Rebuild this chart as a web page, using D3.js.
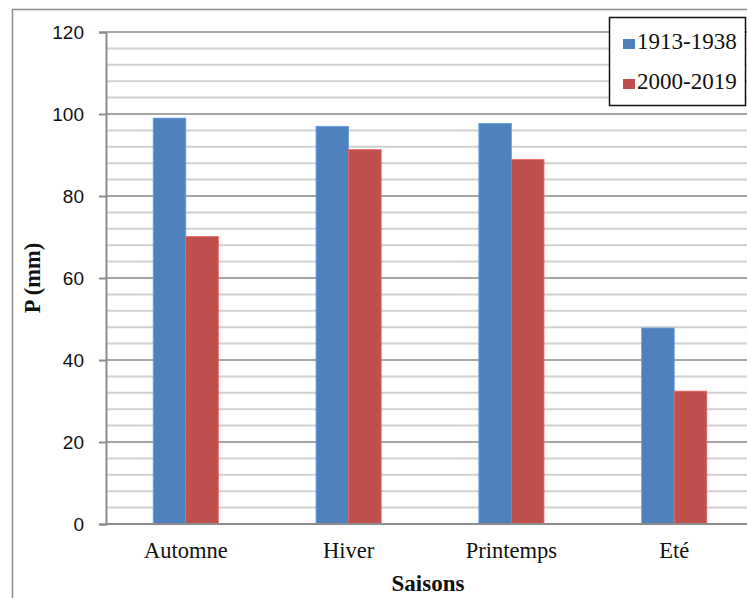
<!DOCTYPE html>
<html>
<head>
<meta charset="utf-8">
<script src="https://cdn.jsdelivr.net/npm/d3@7"></script>
<style>
  html, body { margin: 0; padding: 0; background: #fff; }
  svg { display: block; }
</style>
</head>
<body>
<div id="chart"></div>
<script>
const seasons = ['Automne', 'Hiver', 'Printemps', 'Eté'];
const seriesNames = ['1913-1938', '2000-2019'];
const p1913 = [99, 97, 97.7, 47.8];
const p2000 = [70.1, 91.3, 88.9, 32.4];
const yTicks = [0, 20, 40, 60, 80, 100, 120];
const colors = ['#4f81bd', '#c0504d'];

const width = 747;
const height = 598;
const plot = { left: 106, top: 32, right: 754, bottom: 524 };

const svg = d3.select('#chart')
  .append('svg')
    .attr('width', width)
    .attr('height', height);

// outer chart frame (cut at the right and bottom)
svg.append('path')
  .attr('d', `M12.5,${height + 2}V9.5H${width + 2}`)
  .attr('fill', 'none')
  .attr('stroke', '#8c8c8c')
  .attr('stroke-width', 1.5);

const y = d3.scaleLinear()
  .domain([0, 120])
  .range([plot.bottom, plot.top]);

const x0 = d3.scaleBand()
  .domain(seasons)
  .range([plot.left, plot.right])
  .paddingInner(0.6)
  .paddingOuter(0.29);

const x1 = d3.scaleBand()
  .domain(seriesNames)
  .range([0, x0.bandwidth()]);

// minor gridlines every 4 mm
svg.append('g')
  .selectAll('line')
  .data(d3.range(0, 121, 4).filter(v => v % 20 !== 0))
  .join('line')
    .attr('x1', plot.left)
    .attr('x2', width)
    .attr('y1', d => y(d))
    .attr('y2', d => y(d))
    .attr('stroke', '#d0d0d0')
    .attr('stroke-width', 2);

// major gridlines
svg.append('g')
  .selectAll('line')
  .data(yTicks.filter(v => v > 0))
  .join('line')
    .attr('x1', plot.left)
    .attr('x2', width)
    .attr('y1', d => y(d))
    .attr('y2', d => y(d))
    .attr('stroke', '#a6a6a6')
    .attr('stroke-width', 2);

// bars
const rows = seasons.map((s, i) => ({ season: s, values: [p1913[i], p2000[i]] }));

svg.append('g')
  .selectAll('g')
  .data(rows)
  .join('g')
    .attr('transform', d => `translate(${x0(d.season)},0)`)
  .selectAll('rect')
  .data(d => d.values.map((v, k) => ({ name: seriesNames[k], value: v, k })))
  .join('rect')
    .attr('x', d => x1(d.name))
    .attr('y', d => y(d.value))
    .attr('width', x1.bandwidth())
    .attr('height', d => y(0) - y(d.value))
    .attr('fill', d => colors[d.k])
    .attr('stroke', d => d3.color(colors[d.k]).brighter(0.6))
    .attr('stroke-width', 0.8);

// y axis
const yAxis = svg.append('g')
  .attr('transform', `translate(${plot.left},0)`)
  .call(d3.axisLeft(y).tickValues(yTicks).tickSize(7).tickPadding(15));

yAxis.select('.domain')
  .attr('stroke', '#8c8c8c')
  .attr('stroke-width', 2);
yAxis.selectAll('.tick line')
  .attr('stroke', '#8c8c8c')
  .attr('stroke-width', 2);
yAxis.selectAll('.tick text')
  .attr('fill', '#111')
  .style('font-family', '"Liberation Sans", Arial, sans-serif')
  .style('font-size', '19px');

// x axis baseline
svg.append('line')
  .attr('x1', plot.left)
  .attr('x2', width)
  .attr('y1', y(0))
  .attr('y2', y(0))
  .attr('stroke', '#8c8c8c')
  .attr('stroke-width', 2);

// category labels
svg.append('g')
  .selectAll('text')
  .data(seasons)
  .join('text')
    .attr('x', d => x0(d) + x0.bandwidth() / 2)
    .attr('y', 558)
    .attr('text-anchor', 'middle')
    .attr('fill', '#111')
    .style('font-family', '"Liberation Serif", "Times New Roman", serif')
    .style('font-size', '22.5px')
    .text(d => d);

// axis titles
svg.append('text')
  .attr('transform', 'translate(40,278) rotate(-90)')
  .attr('text-anchor', 'middle')
  .attr('fill', '#111')
  .style('font-family', '"Liberation Serif", "Times New Roman", serif')
  .style('font-size', '22.5px')
  .style('font-weight', 'bold')
  .text('P (mm)');

svg.append('text')
  .attr('x', 428)
  .attr('y', 591)
  .attr('text-anchor', 'middle')
  .attr('fill', '#111')
  .style('font-family', '"Liberation Serif", "Times New Roman", serif')
  .style('font-size', '23px')
  .style('font-weight', 'bold')
  .text('Saisons');

// legend
const legend = svg.append('g');

legend.append('rect')
  .attr('x', 609.5)
  .attr('y', 17.5)
  .attr('width', 136)
  .attr('height', 88)
  .attr('fill', '#fff')
  .attr('stroke', '#111')
  .attr('stroke-width', 1.5);

const items = legend.selectAll('g')
  .data(seriesNames)
  .join('g')
    .attr('transform', (d, i) => `translate(623,${39 + i * 40})`);

items.append('rect')
  .attr('width', 12)
  .attr('height', 10)
  .attr('fill', (d, i) => colors[i]);

items.append('text')
  .attr('x', 14)
  .attr('y', 10)
  .attr('fill', '#111')
  .style('font-family', '"Liberation Serif", "Times New Roman", serif')
  .style('font-size', '23px')
  .text(d => d);
</script>
</body>
</html>
